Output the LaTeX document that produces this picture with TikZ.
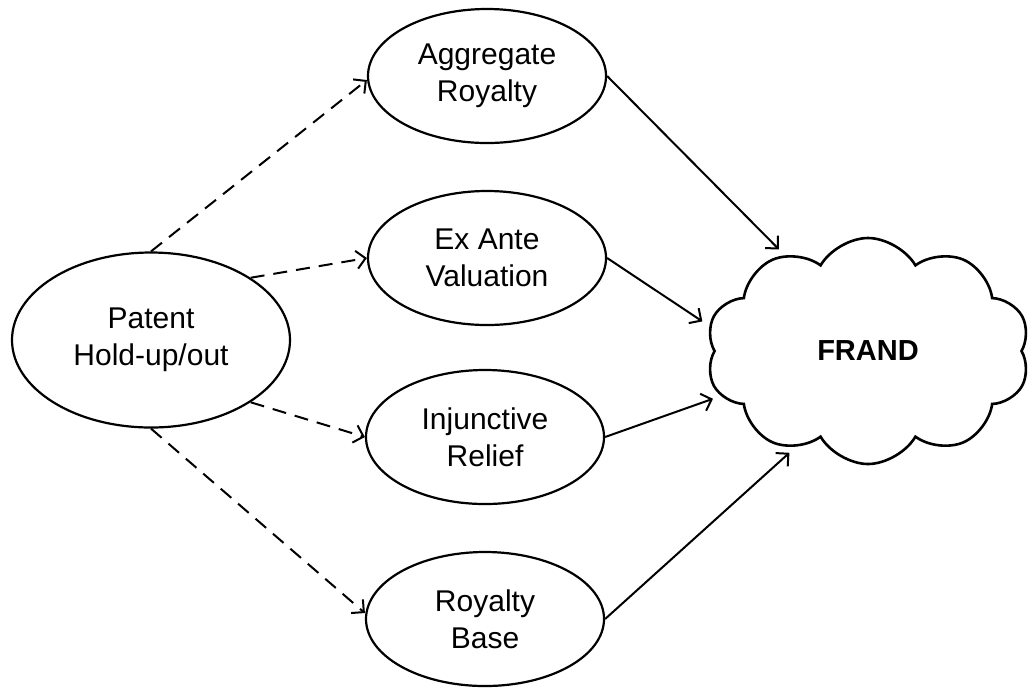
\documentclass[tikz,border=0pt]{standalone}
\usepackage{fontspec}
\setmainfont{Liberation Sans}
\usetikzlibrary{shapes.geometric,shapes.symbols,arrows.meta}

\begin{document}
\begin{tikzpicture}[x=0.5pt,y=-0.5pt,
		bubble/.style={draw, ellipse, line width=1.1pt, inner sep=0pt, minimum width=119pt, minimum height=67pt, align=center, font=\fontsize{15}{18.5}\selectfont},
		dashlink/.style={line width=1pt, dash pattern=on 7pt off 4.5pt, -{Straight Barb[length=4.5pt,width=9pt]}},
		link/.style={line width=1pt, -{Straight Barb[length=4.5pt,width=9pt]}}]
		\useasboundingbox (0,0) rectangle (1036,687);
		
		\node[bubble, minimum width=139pt, minimum height=87.5pt] (patent) at (151,340) {Patent\\Hold-up/out};
		\node[bubble] (agg) at (487,76) {Aggregate\\Royalty};
		\node[bubble] (exante) at (487,258) {Ex Ante\\Valuation};
		\node[bubble] (inj) at (485,437) {Injunctive\\Relief};
		\node[bubble] (base) at (485,619) {Royalty\\Base};
		\node[draw, cloud, cloud puffs=10, cloud puff arc=120, aspect=1.45, line width=1.3pt, inner sep=0pt, minimum width=162pt, minimum height=113pt, font=\bfseries\fontsize{14.5}{17}\selectfont] (frand) at (868,351) {FRAND};
		
		\draw[dashlink] (patent.north) -- ([yshift=-2pt]agg.west);
		\draw[dashlink] (patent.32) -- (exante.west);
		\draw[dashlink] (patent.-32) -- (inj.west);
		\draw[dashlink] (patent.south) -- ([yshift=3pt]base.west);
		
		\draw[link, shorten >=4pt] (agg.east) -- (frand.131);
		\draw[link, shorten >=4pt] (exante.east) -- (frand.171);
		\draw[link, shorten >=4pt] (inj.east) -- (frand.197);
		\draw[link, shorten >=4pt] (base.east) -- (frand.233);
		
		\end{tikzpicture}
\end{document}
